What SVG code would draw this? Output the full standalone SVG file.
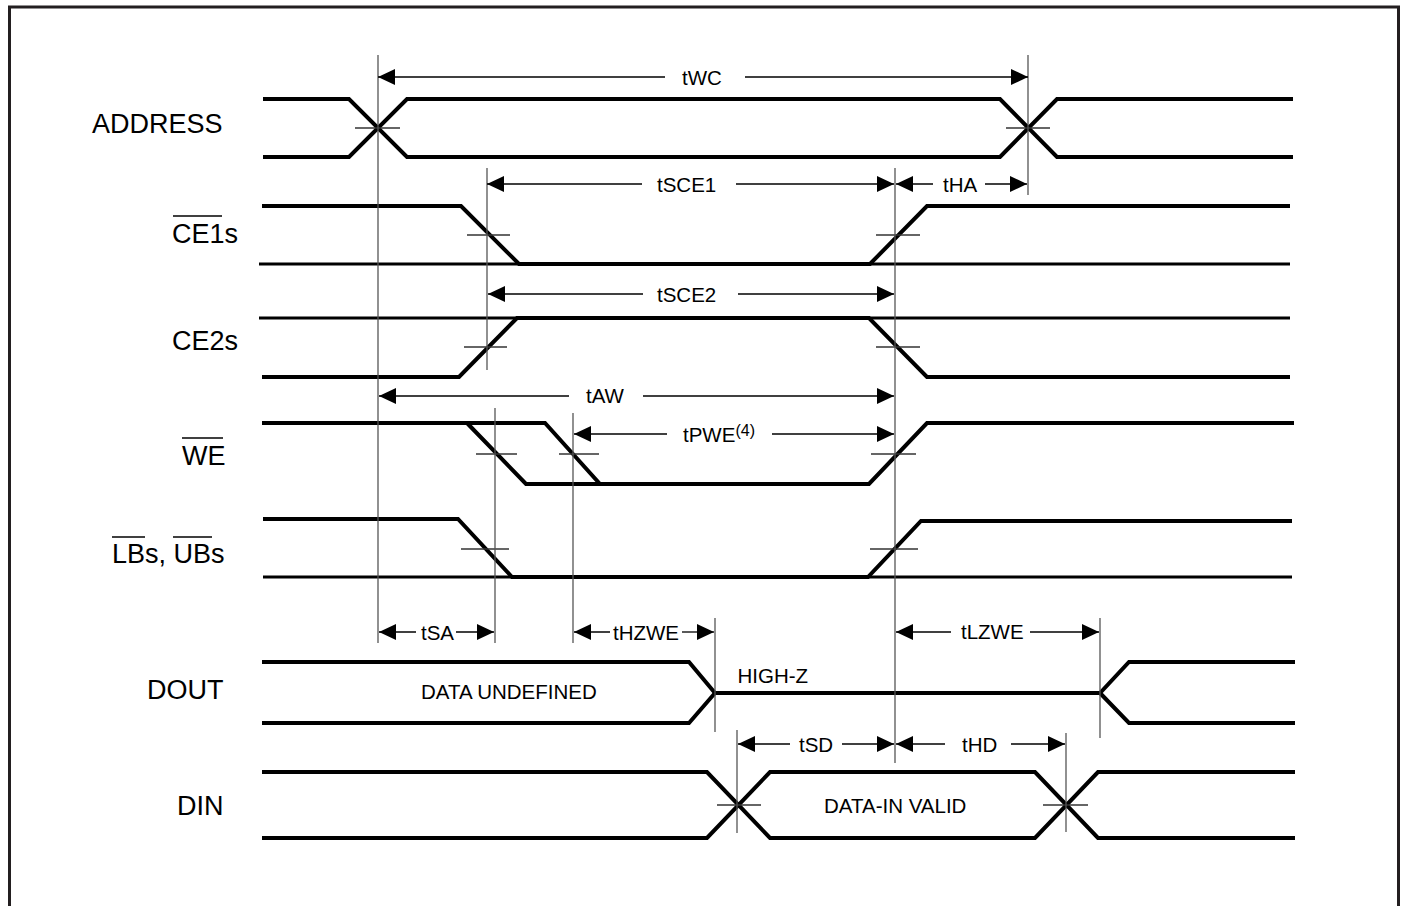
<svg xmlns="http://www.w3.org/2000/svg" width="1401" height="906" viewBox="0 0 1401 906">
<style>
.lbl{font-family:"Liberation Sans",Arial,sans-serif;font-size:27px;fill:#000}
.sm{font-family:"Liberation Sans",Arial,sans-serif;font-size:20.5px;fill:#000}
.sup{font-size:16px}
.thk{fill:none;stroke:#000;stroke-width:4;stroke-linejoin:miter}
.thn{fill:none;stroke:#000;stroke-width:3}
.ov{stroke:#000;stroke-width:1.5}
.vl{stroke:#555;stroke-width:1.3}
.tk{stroke:#333;stroke-width:1.3}
.dim{stroke:#000;stroke-width:1.3;marker-end:url(#ah)}
</style>
<defs>
<marker id="ah" viewBox="0 0 17 16" refX="17" refY="8" markerWidth="17" markerHeight="16" markerUnits="userSpaceOnUse" orient="auto">
<path d="M0,0 L17,8 L0,16 Z" fill="#000"/>
</marker>
</defs>
<rect x="0" y="0" width="1401" height="906" fill="#fff"/>
<rect id="frame" x="9.5" y="7" width="1389" height="930" fill="none" stroke="#231f20" stroke-width="3"/>

<g id="sig-address">
<text class="lbl" x="92" y="133">ADDRESS</text>
<path class="thk" d="M263,99 H349 L407,157 H1000 L1057,99 H1293"/>
<path class="thk" d="M263,157 H349 L407,99 H1000 L1057,157 H1293"/>
<line class="tk" x1="355" y1="128" x2="400" y2="128"/>
<line class="tk" x1="1006" y1="128" x2="1050" y2="128"/>
</g>

<g id="sig-ce1s">
<text class="lbl" x="172" y="243">CE1s</text>
<line class="ov" x1="173" y1="216" x2="222" y2="216"/>
<path class="thn" d="M259,264 H1290"/>
<path class="thk" d="M262,206 H461 L519,264 H870 L927,206 H1290"/>
<line class="tk" x1="467" y1="235" x2="510" y2="235"/>
<line class="tk" x1="876" y1="235" x2="920" y2="235"/>
</g>

<g id="sig-ce2s">
<text class="lbl" x="172" y="350">CE2s</text>
<path class="thn" d="M259,318 H1290"/>
<path class="thk" d="M262,377 H459 L517,318 H869 L927,377 H1290"/>
<line class="tk" x1="464" y1="347" x2="507" y2="347"/>
<line class="tk" x1="876" y1="347" x2="920" y2="347"/>
</g>

<g id="sig-we">
<text class="lbl" x="182" y="465">WE</text>
<line class="ov" x1="182" y1="438" x2="223" y2="438"/>
<path class="thk" d="M262,423 H545 L600,484 H869 L927,423 H1294"/>
<path class="thk" d="M467,423 L526,484 H600"/>
<line class="tk" x1="476" y1="454" x2="517" y2="454"/>
<line class="tk" x1="559" y1="454" x2="599" y2="454"/>
<line class="tk" x1="871" y1="454" x2="916" y2="454"/>
</g>

<g id="sig-lbub">
<text class="lbl" x="112" y="563">LBs, UBs</text>
<line class="ov" x1="112" y1="537" x2="145" y2="537"/>
<line class="ov" x1="173" y1="537" x2="212" y2="537"/>
<path class="thn" d="M263,577 H1292"/>
<path class="thk" d="M263,519 H458 L512,577 H868 L921,521 H1292"/>
<line class="tk" x1="461" y1="549" x2="509" y2="549"/>
<line class="tk" x1="870" y1="549" x2="918" y2="549"/>
</g>

<g id="sig-dout">
<text class="lbl" x="147" y="699">DOUT</text>
<path class="thk" d="M262,662 H689 L715,693 H1100 L1129,662 H1295"/>
<path class="thk" d="M262,723 H689 L715,693"/>
<path class="thk" d="M1100,693 L1129,723 H1295"/>
<text class="sm" x="421" y="699">DATA UNDEFINED</text>
<text class="sm" x="737.5" y="683">HIGH-Z</text>
</g>

<g id="sig-din">
<text class="lbl" x="177" y="815">DIN</text>
<path class="thk" d="M262,772 H707 L770,838 H1035 L1098,772 H1295"/>
<path class="thk" d="M262,838 H707 L770,772 H1035 L1098,838 H1295"/>
<line class="tk" x1="717" y1="805" x2="761" y2="805"/>
<line class="tk" x1="1043" y1="805" x2="1088" y2="805"/>
<text class="sm" x="824" y="813">DATA-IN VALID</text>
</g>

<g id="connectors">
<line class="vl" x1="378" y1="55" x2="378" y2="643"/>
<line class="vl" x1="1028" y1="55" x2="1028" y2="195"/>
<line class="vl" x1="487" y1="168" x2="487" y2="370"/>
<line class="vl" x1="895" y1="168" x2="895" y2="763"/>
<line class="vl" x1="495" y1="408" x2="495" y2="643"/>
<line class="vl" x1="573" y1="413" x2="573" y2="643"/>
<line class="vl" x1="715" y1="618" x2="715" y2="732"/>
<line class="vl" x1="1100" y1="618" x2="1100" y2="738"/>
<line class="vl" x1="737" y1="730" x2="737" y2="833"/>
<line class="vl" x1="1066" y1="733" x2="1066" y2="832"/>

<line class="dim" x1="665" y1="77" x2="378" y2="77"/>
<line class="dim" x1="745" y1="77" x2="1028" y2="77"/>
<text class="sm" x="682" y="84.5">tWC</text>

<line class="dim" x1="642" y1="184" x2="487" y2="184"/>
<line class="dim" x1="736" y1="184" x2="894" y2="184"/>
<text class="sm" x="657" y="191.5">tSCE1</text>

<line class="dim" x1="933" y1="184" x2="896" y2="184"/>
<line class="dim" x1="985" y1="184" x2="1027" y2="184"/>
<text class="sm" x="943" y="191.5">tHA</text>

<line class="dim" x1="643" y1="294" x2="488" y2="294"/>
<line class="dim" x1="738" y1="294" x2="894" y2="294"/>
<text class="sm" x="657" y="301.5">tSCE2</text>

<line class="dim" x1="569" y1="396" x2="379" y2="396"/>
<line class="dim" x1="643" y1="396" x2="894" y2="396"/>
<text class="sm" x="586" y="403">tAW</text>

<line class="dim" x1="667" y1="434" x2="574" y2="434"/>
<line class="dim" x1="772" y1="434" x2="894" y2="434"/>
<text class="sm" x="683" y="441.5">tPWE<tspan class="sup" dy="-6">(4)</tspan></text>

<line class="dim" x1="416" y1="632" x2="379" y2="632"/>
<line class="dim" x1="456" y1="632" x2="494" y2="632"/>
<text class="sm" x="421" y="639.5">tSA</text>

<line class="dim" x1="610" y1="632" x2="574" y2="632"/>
<line class="dim" x1="682" y1="632" x2="714" y2="632"/>
<text class="sm" x="613" y="639.5">tHZWE</text>

<line class="dim" x1="951" y1="632" x2="896" y2="632"/>
<line class="dim" x1="1030" y1="632" x2="1099" y2="632"/>
<text class="sm" x="961" y="639">tLZWE</text>

<line class="dim" x1="790" y1="744" x2="738" y2="744"/>
<line class="dim" x1="842" y1="744" x2="894" y2="744"/>
<text class="sm" x="799" y="751.5">tSD</text>

<line class="dim" x1="945" y1="744" x2="896" y2="744"/>
<line class="dim" x1="1011" y1="744" x2="1065" y2="744"/>
<text class="sm" x="962" y="751.5">tHD</text>
</g>
</svg>
